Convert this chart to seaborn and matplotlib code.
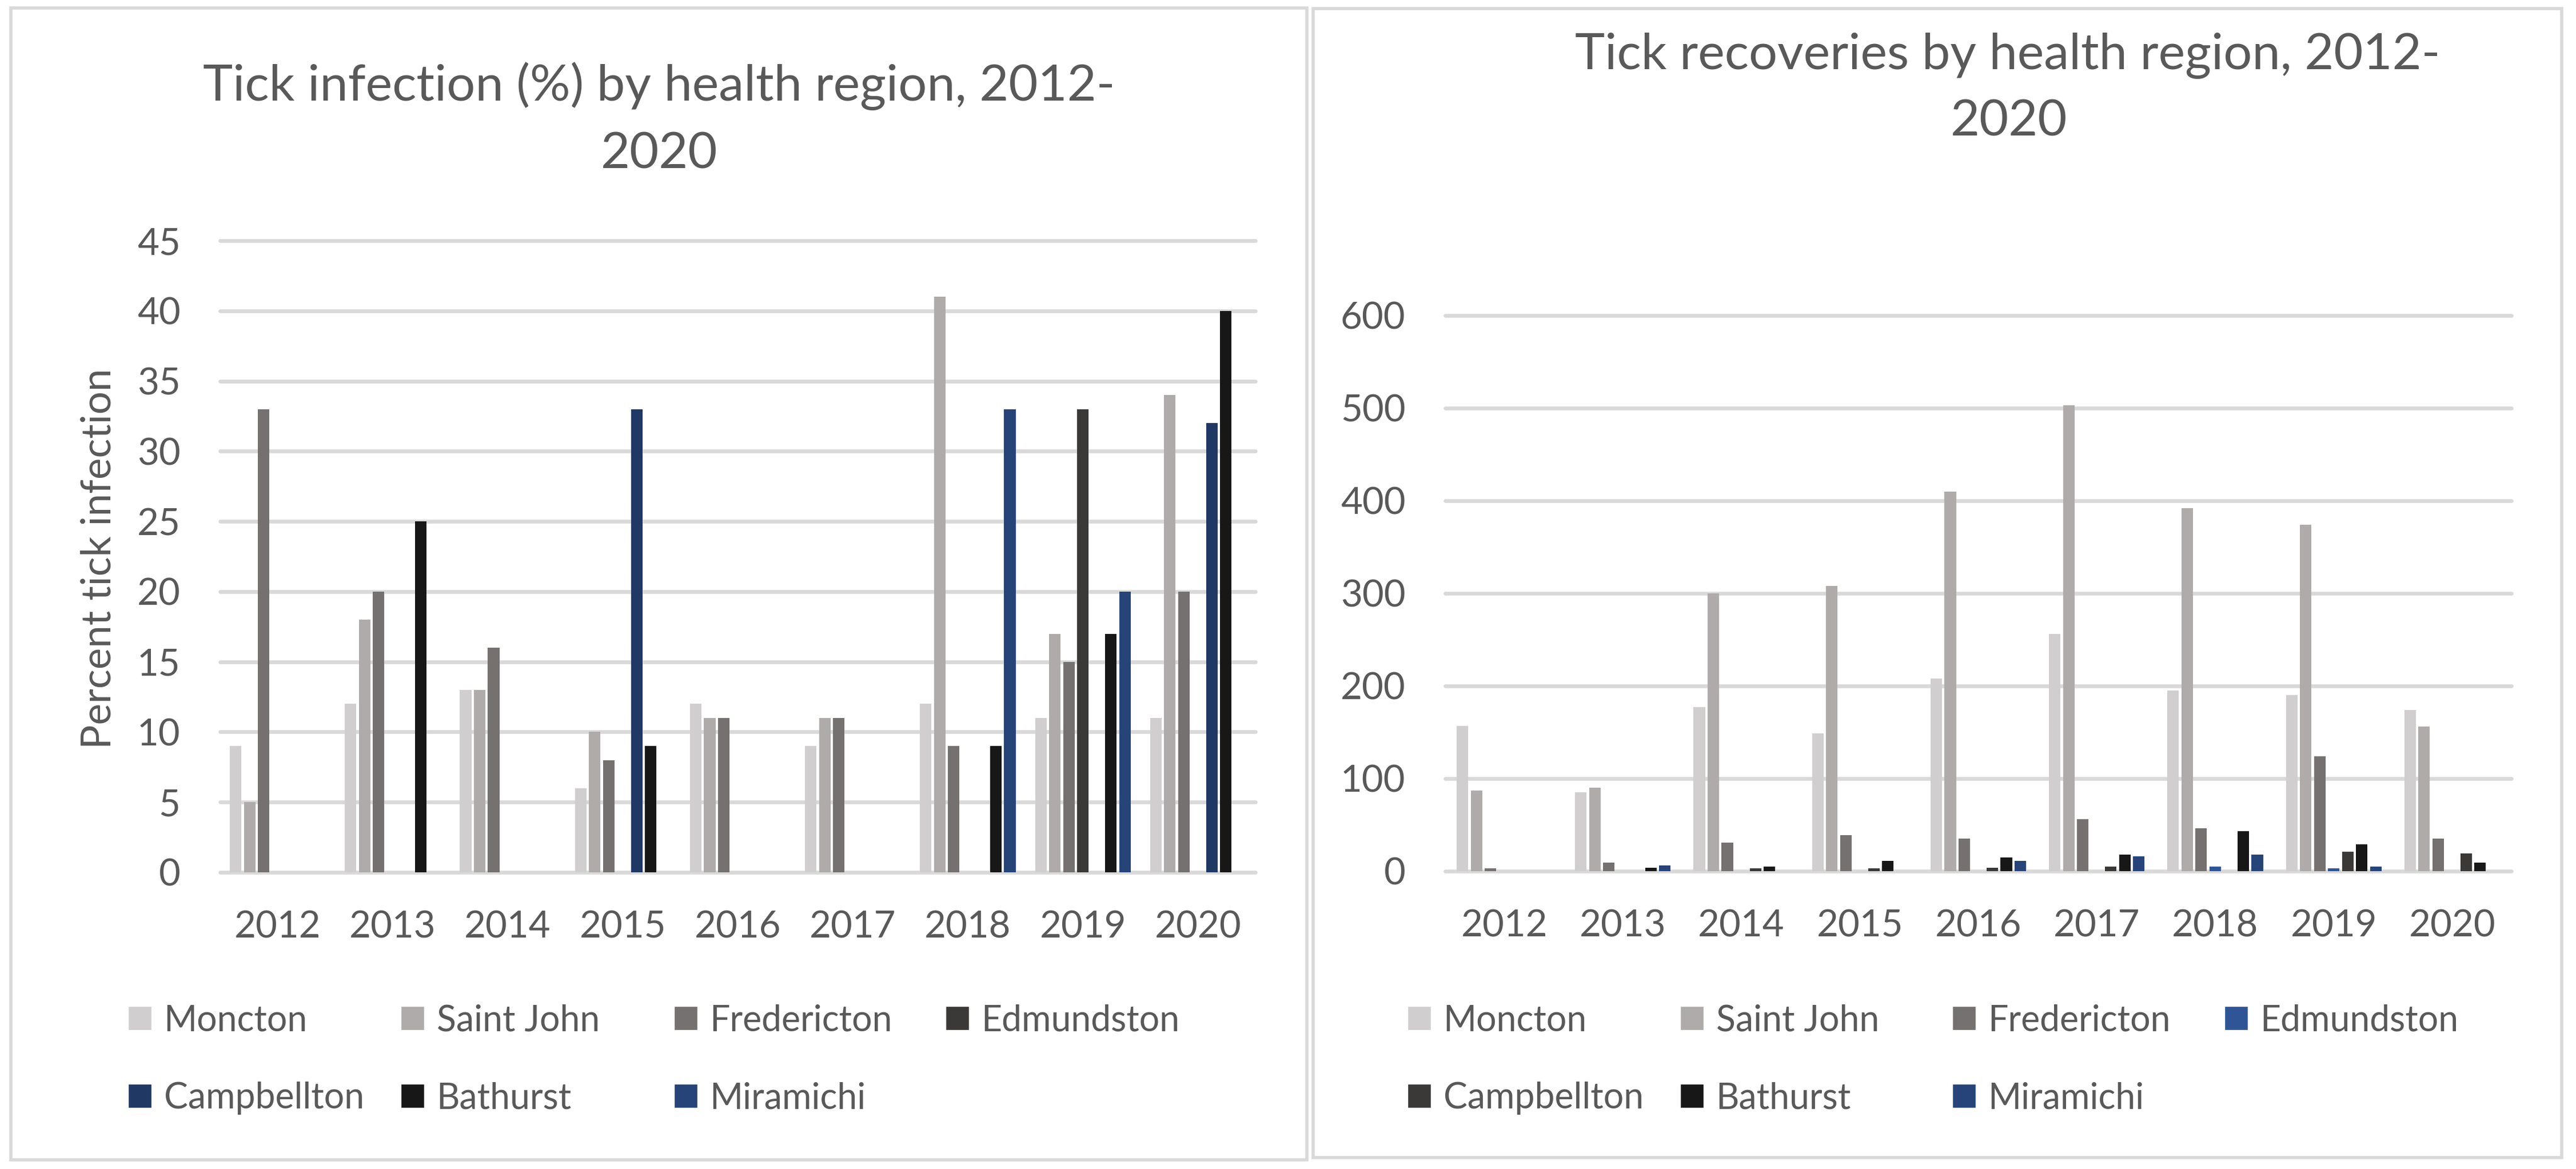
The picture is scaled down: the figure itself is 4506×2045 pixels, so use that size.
import numpy as np
import pandas as pd
import matplotlib
matplotlib.use("Agg")
import matplotlib.pyplot as plt
from matplotlib.patches import Rectangle, Patch
import seaborn as sns

# categories
years = ["2012", "2013", "2014", "2015", "2016", "2017", "2018", "2019", "2020"]
regions = ["Moncton", "Saint John", "Fredericton", "Edmundston",
           "Campbellton", "Bathurst", "Miramichi"]

# Tick infection (%) by region
inf_moncton = [9, 12, 13, 6, 12, 9, 12, 11, 11]
inf_saint_john = [5, 18, 13, 10, 11, 11, 41, 17, 34]
inf_fredericton = [33, 20, 16, 8, 11, 11, 9, 15, 20]
inf_edmundston = [0, 0, 0, 0, 0, 0, 0, 33, 0]
inf_campbellton = [0, 0, 0, 33, 0, 0, 0, 0, 32]
inf_bathurst = [0, 25, 0, 9, 0, 0, 9, 17, 40]
inf_miramichi = [0, 0, 0, 0, 0, 0, 33, 20, 0]

# Tick recoveries by region
rec_moncton = [157, 85, 177, 149, 208, 256, 195, 190, 174]
rec_saint_john = [87, 90, 300, 308, 410, 503, 392, 374, 156]
rec_fredericton = [3, 9, 31, 39, 35, 56, 46, 124, 35]
rec_edmundston = [0, 0, 0, 0, 0, 0, 5, 3, 0]
rec_campbellton = [0, 0, 3, 3, 4, 5, 0, 21, 19]
rec_bathurst = [0, 4, 5, 11, 15, 18, 43, 29, 9]
rec_miramichi = [0, 6, 0, 0, 11, 16, 18, 5, 0]

left_colors = ["#D0CECE", "#AFABAB", "#767171", "#3B3838", "#203864", "#181717", "#264478"]
right_colors = ["#D0CECE", "#AFABAB", "#767171", "#2F5597", "#3B3838", "#181717", "#264478"]

TXT = "#595959"
GRID = "#D9D9D9"


def long_frame(series):
    rows = []
    for region, vals in zip(regions, series):
        for yr, v in zip(years, vals):
            rows.append({"year": yr, "region": region, "value": v})
    return pd.DataFrame(rows)


df_inf = long_frame([inf_moncton, inf_saint_john, inf_fredericton, inf_edmundston,
                     inf_campbellton, inf_bathurst, inf_miramichi])
df_rec = long_frame([rec_moncton, rec_saint_john, rec_fredericton, rec_edmundston,
                     rec_campbellton, rec_bathurst, rec_miramichi])

sns.set_style("white")
plt.rcParams["font.family"] = ["Lato", "DejaVu Sans"]

W, H, DPI = 4506, 2045, 100
fig = plt.figure(figsize=(W / DPI, H / DPI), dpi=DPI)
fig.patch.set_facecolor("white")


def fx(px):
    return px / W


def fy(py):
    return 1 - py / H


def draw(ax, df, colors, ymax, ystep, width):
    sns.barplot(data=df, x="year", y="value", hue="region", order=years,
                hue_order=regions, palette=colors, saturation=1, width=width,
                gap=0.18, linewidth=0, errorbar=None, legend=False, ax=ax)
    ax.set_xlim(-0.5, len(years) - 0.5)
    ax.set_ylim(0, ymax)
    ax.set_yticks(np.arange(0, ymax + 1, ystep))
    ax.yaxis.grid(True, color=GRID, lw=4.8)
    ax.xaxis.grid(False)
    ax.set_axisbelow(True)
    for s in ax.spines.values():
        s.set_visible(False)
    ax.tick_params(axis="both", length=0, labelsize=47, labelcolor=TXT)
    ax.tick_params(axis="x", pad=48)
    ax.tick_params(axis="y", pad=50)
    ax.set_xlabel("")
    ax.set_ylabel("")
    for gl in ax.get_ygridlines():
        gl.set_clip_on(False)


def add_legend(colors, col_x):
    # Excel style legend: 4 equal columns, filled row by row
    for k, x in enumerate(col_x):
        idx = [i for i in (k, k + 4) if i < len(regions)]
        handles = [Patch(facecolor=colors[i], label=regions[i]) for i in idx]
        fig.legend(handles=handles, loc="upper left", bbox_to_anchor=(fx(x), fy(1756)),
                   frameon=False, fontsize=45, labelcolor=TXT, handlelength=0.66,
                   handleheight=0.66, handletextpad=0.34, labelspacing=1.25,
                   borderpad=0, borderaxespad=0)


# left panel: infection
ax1 = fig.add_axes([fx(385), fy(1526), (2196 - 385) / W, (1526 - 421) / H])
draw(ax1, df_inf, left_colors, 45, 5, 0.853)
fig.text(fx(173), fy(977), "Percent tick infection", rotation=90, ha="center",
         va="center", fontsize=51, color=TXT)
fig.text(fx(1153), fy(176), "Tick infection (%) by health region, 2012-", ha="center",
         va="baseline", fontsize=63.5, color=TXT)
fig.text(fx(1153), fy(295), "2020", ha="center", va="baseline", fontsize=63.5, color=TXT)
add_legend(left_colors, [224, 701, 1179, 1654])

# right panel: recoveries
ax2 = fig.add_axes([fx(2528), fy(1524), (4393 - 2528) / W, (1524 - 552) / H])
draw(ax2, df_rec, right_colors, 600, 100, 0.828)
fig.text(fx(3512), fy(121), "Tick recoveries by health region, 2012-", ha="center",
         va="baseline", fontsize=63.5, color=TXT)
fig.text(fx(3514), fy(237), "2020", ha="center", va="baseline", fontsize=63.5, color=TXT)
add_legend(right_colors, [2462, 2939, 3415, 3891])

# chart area borders
fig.add_artist(Rectangle((fx(19), fy(2029)), (2286 - 19) / W, (2029 - 14) / H,
                         transform=fig.transFigure, fill=False, ec=GRID, lw=4))
fig.add_artist(Rectangle((fx(2297), fy(2025)), (4481 - 2297) / W, (2025 - 15) / H,
                         transform=fig.transFigure, fill=False, ec=GRID, lw=4))

fig.savefig("out.png", dpi=DPI)
plt.close(fig)
